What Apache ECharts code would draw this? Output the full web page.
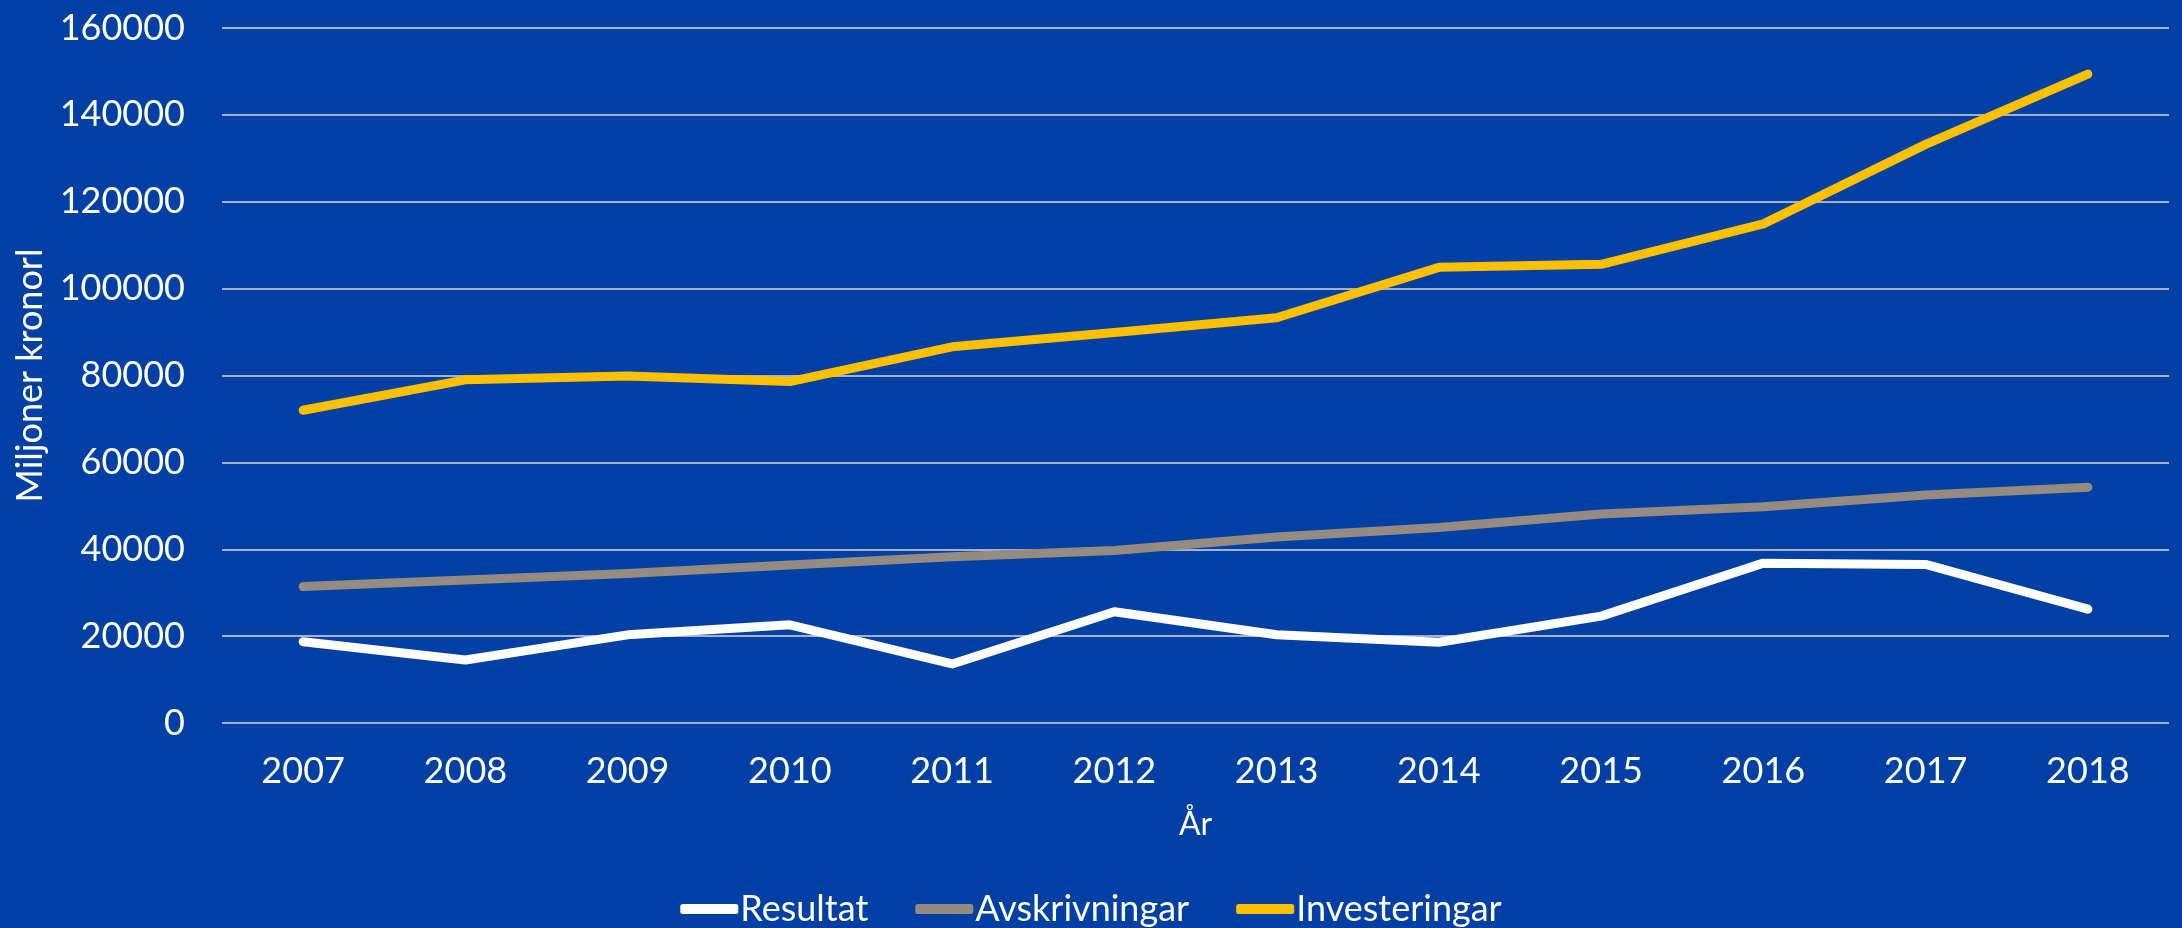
<!DOCTYPE html>
<html>
<head>
<meta charset="utf-8">
<title>Resultat, avskrivningar och investeringar 2007–2018</title>
<script src="https://cdn.jsdelivr.net/npm/echarts@6/dist/echarts.min.js"></script>
<style>
  html, body { margin: 0; padding: 0; background: #0040A5; }
  #chart { width: 2182px; height: 928px; }
</style>
</head>
<body>
<div id="chart"></div>
<script>
// Years on the category axis
const years = ['2007', '2008', '2009', '2010', '2011', '2012', '2013', '2014', '2015', '2016', '2017', '2018'];

// Values in miljoner kronor
const resultat = [18700, 14500, 20300, 22600, 13600, 25600, 20300, 18600, 24600, 36800, 36500, 26200];
const avskrivningar = [31400, 32900, 34400, 36400, 38300, 39700, 42800, 45000, 48100, 49800, 52500, 54300];
const investeringar = [72000, 79000, 79900, 78600, 86600, 89900, 93300, 104900, 105600, 114900, 133200, 149400];

// Value axis range
const yMin = 0;
const yMax = 160000;
const yStep = 20000;

const FONT = 'Lato, "Open Sans", sans-serif';
const chart = echarts.init(document.getElementById('chart'), null, { renderer: 'canvas' });

function lineSeries(name, data, color) {
  return {
    name: name,
    type: 'line',
    data: data,
    symbol: 'none',
    showSymbol: false,
    smooth: false,
    itemStyle: { color: color },
    lineStyle: { color: color, width: 9, cap: 'round', join: 'round' },
    emphasis: { disabled: true }
  };
}

chart.setOption({
  backgroundColor: '#0040A5',
  animation: false,
  textStyle: { fontFamily: FONT },
  grid: { left: 222, right: 13, top: 28, bottom: 205, containLabel: false },
  legend: {
    data: ['Resultat', 'Avskrivningar', 'Investeringar'],
    left: 'center',
    top: 885,
    icon: 'roundRect',
    itemWidth: 58,
    itemHeight: 10,
    itemGap: 47,
    textStyle: { color: '#FFFFFF', fontSize: 36, fontFamily: FONT, lineHeight: 38, padding: [0, 0, 0, -3] }
  },
  xAxis: {
    type: 'category',
    data: years,
    boundaryGap: true,
    name: 'År',
    nameLocation: 'middle',
    nameGap: 86,
    nameTextStyle: { color: '#FFFFFF', fontSize: 32, fontFamily: FONT },
    axisLine: { show: false },
    axisTick: { show: false },
    axisLabel: { color: '#FFFFFF', fontSize: 36, fontFamily: FONT, margin: 30 }
  },
  yAxis: {
    type: 'value',
    min: yMin,
    max: yMax,
    interval: yStep,
    name: 'Miljoner kronorl',
    nameLocation: 'middle',
    nameGap: 166,
    nameTextStyle: { color: '#FFFFFF', fontSize: 36, fontFamily: FONT },
    axisLine: { show: false },
    axisTick: { show: false },
    axisLabel: {
      color: '#FFFFFF',
      fontSize: 36,
      fontFamily: FONT,
      margin: 37,
      formatter: function (v) { return String(v); }
    },
    splitLine: { show: true, lineStyle: { color: '#D9D9D9', width: 1.5 } }
  },
  series: [
    lineSeries('Resultat', resultat, '#FFFFFF'),
    lineSeries('Avskrivningar', avskrivningar, '#968B80'),
    lineSeries('Investeringar', investeringar, '#FFC000')
  ]
});
</script>
</body>
</html>
